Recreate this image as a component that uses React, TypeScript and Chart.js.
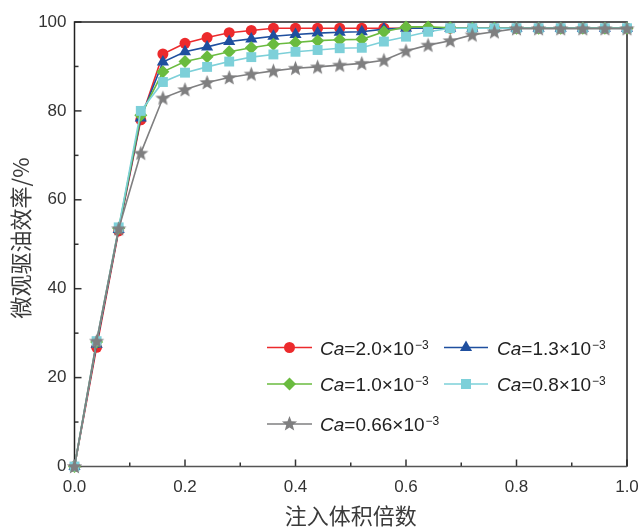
import React, { useEffect, useRef } from 'react';
import { Chart, registerables } from 'chart.js';

Chart.register(...registerables);

const xValues = [0, 0.04, 0.08, 0.12, 0.16, 0.2, 0.24, 0.28, 0.32, 0.36, 0.4, 0.44, 0.48, 0.52, 0.56, 0.6, 0.64, 0.68, 0.72, 0.76, 0.8, 0.84, 0.88, 0.92, 0.96, 1.0];

const seriesCa = ['2.0', '1.3', '1.0', '0.8', '0.66'];

const ca20 = [0, 26.8, 53.0, 78.0, 92.8, 95.2, 96.5, 97.6, 98.1, 98.6, 98.6, 98.6, 98.6, 98.6, 98.6, 98.6, 98.6, 98.6, 98.6, 98.6, 98.6, 98.6, 98.6, 98.6, 98.6, 98.6];
const ca13 = [0, 27.5, 53.3, 78.4, 91.0, 93.3, 94.4, 95.6, 96.2, 96.8, 97.2, 97.5, 97.7, 97.8, 98.4, 98.6, 98.6, 98.6, 98.6, 98.6, 98.6, 98.6, 98.6, 98.6, 98.6, 98.6];
const ca10 = [0, 28.0, 53.6, 79.0, 88.8, 91.1, 92.2, 93.3, 94.2, 95.0, 95.4, 95.8, 96.0, 96.1, 97.8, 98.9, 98.9, 98.7, 98.6, 98.6, 98.6, 98.6, 98.6, 98.6, 98.6, 98.6];
const ca08 = [0, 28.2, 53.8, 80.0, 86.5, 88.6, 89.9, 91.1, 92.1, 92.7, 93.3, 93.7, 94.1, 94.2, 95.6, 96.7, 97.8, 98.6, 98.6, 98.6, 98.6, 98.6, 98.6, 98.6, 98.6, 98.6];
const ca066 = [0, 28.2, 53.5, 70.5, 82.9, 84.8, 86.4, 87.5, 88.3, 89.0, 89.6, 89.9, 90.3, 90.7, 91.4, 93.5, 94.8, 95.8, 97.1, 97.8, 98.5, 98.5, 98.5, 98.5, 98.5, 98.5];

const xTitle = '注入体积倍数';
const yTitle = '微观驱油效率/%';

const colors = ['#ec2a2c', '#1f4f9f', '#6abb3f', '#7dd0d9', '#7f7f80'];
const styles = ['circle', 'triangle', 'rectRot', 'rect', 'star'];
const seriesData = [ca20, ca13, ca10, ca08, ca066];

const FONT = '"Liberation Sans", Arial, sans-serif';
const CJK = '"Noto Sans CJK SC", sans-serif';

function starPath(ctx: CanvasRenderingContext2D, x: number, y: number, R: number, r: number) {
  ctx.beginPath();
  for (let i = 0; i < 10; i++) {
    const rad = i % 2 === 0 ? R : r;
    const a = -Math.PI / 2 + (i * Math.PI) / 5;
    const px = x + rad * Math.cos(a);
    const py = y + rad * Math.sin(a);
    if (i === 0) ctx.moveTo(px, py);
    else ctx.lineTo(px, py);
  }
  ctx.closePath();
}

function makeStar(color: string) {
  const c = document.createElement('canvas');
  c.width = 17;
  c.height = 17;
  const g = c.getContext('2d')!;
  g.fillStyle = color;
  starPath(g, 8.5, 9, 8, 3.4);
  g.fill();
  return c;
}

function drawMarker(ctx: CanvasRenderingContext2D, style: string, x: number, y: number, color: string) {
  ctx.save();
  ctx.fillStyle = color;
  ctx.beginPath();
  if (style === 'circle') {
    ctx.arc(x, y, 5.5, 0, Math.PI * 2);
    ctx.fill();
  } else if (style === 'triangle') {
    const r = 7;
    ctx.moveTo(x, y - r);
    ctx.lineTo(x + r * Math.sin(Math.PI * 2 / 3), y - r * Math.cos(Math.PI * 2 / 3));
    ctx.lineTo(x + r * Math.sin(Math.PI * 4 / 3), y - r * Math.cos(Math.PI * 4 / 3));
    ctx.closePath();
    ctx.fill();
  } else if (style === 'rectRot') {
    const r = 6.5;
    ctx.moveTo(x, y - r);
    ctx.lineTo(x + r, y);
    ctx.lineTo(x, y + r);
    ctx.lineTo(x - r, y);
    ctx.closePath();
    ctx.fill();
  } else if (style === 'rect') {
    const h = 5;
    ctx.rect(x - h, y - h, 2 * h, 2 * h);
    ctx.fill();
  } else {
    starPath(ctx, x, y, 8, 3.4);
    ctx.fill();
  }
  ctx.restore();
}

const frame = {
  id: 'frame',
  beforeDatasetsDraw(chart: any) {
    const { ctx, chartArea } = chart;
    const { left, right, top, bottom } = chartArea;
    const xs = chart.scales.x;
    const ys = chart.scales.y;
    ctx.save();
    ctx.lineWidth = 1.5;
    ctx.strokeStyle = '#333';
    for (let v = 0; v <= 10; v++) {
      const px = xs.getPixelForValue(v / 10);
      const len = v % 2 === 0 ? 7 : 4;
      ctx.beginPath();
      ctx.moveTo(px, bottom);
      ctx.lineTo(px, bottom - len);
      ctx.stroke();
      const py = ys.getPixelForValue(v * 10);
      ctx.beginPath();
      ctx.moveTo(left, py);
      ctx.lineTo(left + len, py);
      ctx.stroke();
    }
    ctx.strokeStyle = '#222';
    ctx.beginPath();
    ctx.moveTo(left, bottom);
    ctx.lineTo(left, top);
    ctx.lineTo(right, top);
    ctx.lineTo(right, bottom);
    ctx.stroke();
    ctx.strokeStyle = '#555';
    ctx.beginPath();
    ctx.moveTo(left, bottom);
    ctx.lineTo(right, bottom);
    ctx.stroke();
    ctx.restore();
  },
  afterDraw(chart: any) {
    const { ctx, chartArea } = chart;
    ctx.save();
    ctx.fillStyle = '#3a3a3a';
    ctx.font = `22px ${CJK}`;
    ctx.textAlign = 'center';
    ctx.textBaseline = 'middle';
    ctx.fillText(xTitle, (chartArea.left + chartArea.right) / 2, 516);
    ctx.save();
    ctx.translate(21, 238);
    ctx.rotate(-Math.PI / 2);
    ctx.fillText(yTitle, 0, 0);
    ctx.restore();

    const rows = [347.5, 384, 424];
    const cols = [{ l0: 267, l1: 312, m: 289.5, t: 320 }, { l0: 444, l1: 488, m: 466, t: 497 }];
    seriesCa.forEach((ca, i) => {
      const row = rows[Math.floor(i / 2)];
      const col = cols[i % 2];
      ctx.strokeStyle = colors[i];
      ctx.lineWidth = 1.6;
      ctx.beginPath();
      ctx.moveTo(col.l0, row);
      ctx.lineTo(col.l1, row);
      ctx.stroke();
      drawMarker(ctx, styles[i], col.m, row, colors[i]);
      ctx.fillStyle = '#222';
      ctx.textAlign = 'left';
      ctx.textBaseline = 'alphabetic';
      const base = row + 7;
      let x = col.t;
      ctx.font = `italic 19px ${FONT}`;
      ctx.fillText('Ca', x, base);
      x += ctx.measureText('Ca').width;
      ctx.font = `19px ${FONT}`;
      const main = `=${ca}×10`;
      ctx.fillText(main, x, base);
      x += ctx.measureText(main).width + 1;
      ctx.font = `12px ${FONT}`;
      ctx.fillText('−3', x, base - 6);
    });
    ctx.restore();
  },
};

export default function App() {
  const ref = useRef<HTMLCanvasElement>(null);
  useEffect(() => {
    const starImg = makeStar(colors[4]);
    const datasets = seriesData.map((d, i) => ({
      label: `Ca=${seriesCa[i]}×10⁻³`,
      data: xValues.map((x, j) => ({ x, y: d[j] })),
      borderColor: colors[i],
      backgroundColor: colors[i],
      borderWidth: 1.6,
      pointStyle: styles[i] === 'star' ? starImg : styles[i],
      pointRadius: styles[i] === 'circle' ? 5.5 : styles[i] === 'rect' ? 7 : styles[i] === 'rectRot' ? 6.5 : 7,
      pointBorderWidth: 0,
      pointBackgroundColor: colors[i],
      pointBorderColor: colors[i],
      order: 4 - i,
      clip: false,
      tension: 0,
    }));
    const chart = new Chart(ref.current!, {
      type: 'line',
      data: { datasets },
      options: {
        animation: false,
        responsive: false,
        layout: { padding: { top: 22, right: 13, left: 0, bottom: 0 } },
        plugins: { legend: { display: false }, tooltip: { enabled: false } },
        scales: {
          x: {
            type: 'linear',
            min: 0,
            max: 1,
            grid: { display: false, drawTicks: false },
            border: { display: false },
            ticks: {
              stepSize: 0.2,
              padding: 11,
              color: '#333',
              font: { family: FONT, size: 17 },
              callback: (v: any) => Number(v).toFixed(1),
            },
            afterFit: (s: any) => {
              s.height = 62.5;
              s.paddingLeft = 0;
              s.paddingRight = 0;
            },
          },
          y: {
            type: 'linear',
            min: 0,
            max: 100,
            grid: { display: false, drawTicks: false },
            border: { display: false },
            ticks: {
              stepSize: 20,
              padding: 8,
              color: '#333',
              font: { family: FONT, size: 17 },
            },
            afterFit: (s: any) => {
              s.width = 74.5;
              s.paddingTop = 0;
              s.paddingBottom = 0;
            },
          },
        },
      },
      plugins: [frame],
    });
    return () => chart.destroy();
  }, []);
  return (
    <div style={{ position: 'fixed', left: 0, top: 0, width: 640, height: 529, background: '#fff' }}>
      <canvas ref={ref} width={640} height={529} style={{ display: 'block' }} />
    </div>
  );
}
